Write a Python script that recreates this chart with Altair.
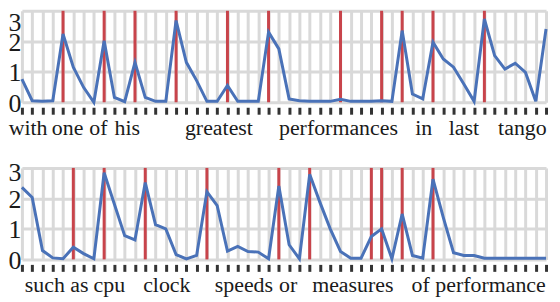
import altair as alt
import pandas as pd

steps = list(range(52))

top_values = [0.76, 0.05, 0.03, 0.05, 2.24, 1.15, 0.49, 0.0, 2.02, 0.16, 0.02, 1.31,
              0.16, 0.03, 0.03, 2.68, 1.31, 0.71, 0.03, 0.03, 0.55, 0.03, 0.03, 0.03, 2.3,
              1.75, 0.11, 0.05, 0.03, 0.03, 0.03, 0.1, 0.03, 0.03, 0.03, 0.05, 0.03, 2.35,
              0.27, 0.11, 1.97, 1.42, 1.15, 0.6, 0.03, 2.73, 1.53, 1.09, 1.28, 0.98, 0.03, 2.4]
bottom_values = [2.36, 2.03, 0.29, 0.05, 0.02, 0.40, 0.19, 0.02, 2.84, 1.81, 0.78, 0.64,
                 2.52, 1.14, 1.0, 0.16, 0.02, 0.13, 2.22, 1.76, 0.27, 0.43, 0.26, 0.24, 0.02,
                 2.41, 0.48, 0.02, 2.79, 1.87, 1.0, 0.26, 0.04, 0.04,
                 0.75, 1.0, 0.02, 1.49, 0.13, 0.04, 2.63, 1.38, 0.22, 0.13, 0.13, 0.04,
                 0.04, 0.04, 0.04, 0.04, 0.04, 0.04]

top_marks = [4, 8, 11, 15, 20, 24, 31, 35, 37, 40, 45]
bottom_marks = [5, 8, 12, 18, 25, 28, 34, 35, 37, 40]

top_words = ["with", "one", "of", "his", "greatest", "performances", "in", "last", "tango"]
top_word_pos = [0.6, 4.45, 7.45, 10.26, 19.17, 30.8, 39.1, 43.0, 48.7]
bottom_words = ["such", "as", "cpu", "clock", "speeds", "or", "measures", "of", "performance"]
bottom_word_pos = [2.23, 5.6, 8.5, 14.1, 21.6, 25.9, 32.2, 38.8, 45.6]

W = 527
H = 92
BLUE = "#4a72b8"
RED = "#c8444b"
GRID = "#d9d9d9"
SERIF = "Liberation Serif"


def panel(values, marks, words, wpos, top_offset):
    line_df = pd.DataFrame({"step": steps, "value": values})
    mark_df = pd.DataFrame({"step": marks})
    word_df = pd.DataFrame({"word": words, "pos": wpos})
    xscale = alt.Scale(domain=[0, 51], nice=False, zero=False)
    yscale = alt.Scale(domain=[0, 3], nice=False)
    xaxis = alt.Axis(values=steps, grid=True, gridColor=GRID, gridWidth=3,
                     labels=False, ticks=True, tickColor="#333333", tickWidth=3,
                     tickSize=7, offset=5, domain=False, title=None)
    yaxis = alt.Axis(values=[0, 1, 2, 3], grid=True, gridColor=GRID, gridWidth=3,
                     ticks=False, domain=False, labelFont=SERIF, labelFontSize=26,
                     labelColor="#1a1a1a", labelPadding=1, title=None,
                     labelOverlap=False,
                     labelOffset={"condition": {"test": "datum.value === 3", "value": top_offset},
                                  "value": 1})
    rules = alt.Chart(mark_df).mark_rule(color=RED, strokeWidth=3).encode(
        x=alt.X("step:Q", scale=xscale, axis=xaxis),
        y=alt.value(0), y2=alt.value(H))
    line = alt.Chart(line_df).mark_line(color=BLUE, strokeWidth=3).encode(
        x=alt.X("step:Q", scale=xscale, axis=xaxis),
        y=alt.Y("value:Q", scale=yscale, axis=yaxis))
    text = alt.Chart(word_df).mark_text(font=SERIF, fontSize=22, baseline="alphabetic",
                                        color="#1a1a1a").encode(
        x=alt.X("pos:Q", scale=xscale, axis=xaxis),
        y=alt.value(H + 33), text="word:N")
    return alt.layer(rules, line, text).properties(width=W, height=H)


top = panel(top_values, top_marks, top_words, top_word_pos, 12)
bottom = panel(bottom_values, bottom_marks, bottom_words, bottom_word_pos, 5)

chart = alt.vconcat(top, bottom, spacing=21).properties(
    padding={"left": 0, "top": 0, "right": 0, "bottom": 0}
).configure_view(strokeWidth=0)

chart.save("out.html", embed_options={"renderer": "svg", "actions": False})
